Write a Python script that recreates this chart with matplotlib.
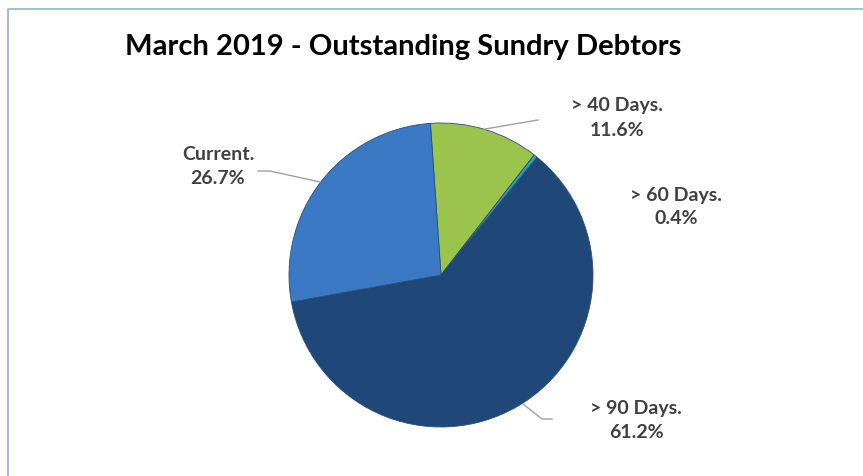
import matplotlib.pyplot as plt

# data
labels = ['> 40 Days.', '> 60 Days.', '> 90 Days.', 'Current.']
shares = [11.6, 0.4, 61.2, 26.7]
colors = ['#9bc44c', '#2f9fb4', '#1f4878', '#3b79c4']

W, H = 863, 477
fig = plt.figure(figsize=(W / 100, H / 100), dpi=100)
ax = fig.add_axes([0, 0, 1, 1])

ax.pie(shares, colors=colors, startangle=94, counterclock=False,
       center=(441, H - 276), radius=152,
       wedgeprops=dict(edgecolor='#2a4f7a', linewidth=0.6))
ax.set_xlim(0, W)
ax.set_ylim(0, H)
ax.axis('off')

# frame
ax.plot([8, 8, W], [0, H - 10, H - 10], color='#8fb1db', lw=1.2)

ax.text(403, H - 47, 'March 2019 - Outstanding Sundry Debtors', ha='center', va='center',
        fontsize=21, fontweight='bold', family='Lato', color='#000000')

# label positions (px) and leader lines
lab_pos = [(617, 118), (676, 207), (636, 421), (218, 166)]
leaders = [[(485, 130), (538, 121)], None,
           [(523, 405), (542, 420), (552, 420)],
           [(320, 183), (270, 172), (258, 172)]]
for lab, val, (x, y), ld in zip(labels, shares, lab_pos, leaders):
    ax.text(x, H - y, f'{lab}\n{val:.1f}%', ha='center', va='center', fontsize=14,
            fontweight='bold', family='Lato', color='#404040', linespacing=1.5)
    if ld:
        ax.plot([p[0] for p in ld], [H - p[1] for p in ld], color='#a0a0a0', lw=1)

fig.savefig('out.png', dpi=100)
